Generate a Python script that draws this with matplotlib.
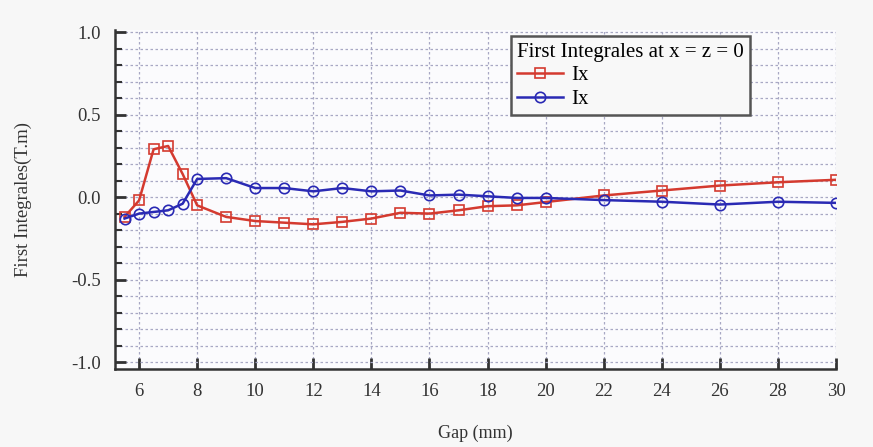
import numpy as np
import matplotlib
matplotlib.use("Agg")
import matplotlib.pyplot as plt
from matplotlib.ticker import MultipleLocator

plt.rcParams['font.family'] = ['Liberation Serif', 'DejaVu Serif']

# Gap positions (mm)
gap = [5.5, 6, 6.5, 7, 7.5, 8, 9, 10, 11, 12, 13, 14, 15, 16, 17, 18, 19, 20,
       22, 24, 26, 28, 30]

# First integrals (T.m)
ix_red = [-0.12, -0.02, 0.29, 0.31, 0.14, -0.05, -0.12, -0.145, -0.155, -0.165,
          -0.15, -0.13, -0.095, -0.10, -0.08, -0.055, -0.05, -0.03,
          0.01, 0.04, 0.07, 0.09, 0.105]
ix_blue = [-0.13, -0.10, -0.09, -0.08, -0.04, 0.11, 0.115, 0.055, 0.055, 0.035,
           0.055, 0.035, 0.04, 0.01, 0.015, 0.005, -0.005, -0.005,
           -0.018, -0.028, -0.045, -0.028, -0.035]

fig = plt.figure(figsize=(8.73, 4.47), dpi=100, facecolor='#f7f7f7')
ax = fig.add_axes([0.1317, 0.1745, 0.826, 0.758])
ax.set_facecolor('#fbfbfd')

ax.plot(gap, ix_red, color='#d43a2f', marker='s', markersize=7.5,
        markerfacecolor='none', markeredgewidth=1.2, linewidth=1.8, label='Ix')
ax.plot(gap, ix_blue, color='#2a2ab4', marker='o', markersize=7.5,
        markerfacecolor='none', markeredgewidth=1.2, linewidth=1.8, label='Ix')

ax.set_xlim(5.17, 30.0)
ax.set_ylim(-1.042, 1.012)
ax.xaxis.set_major_locator(MultipleLocator(2))
ax.yaxis.set_major_locator(MultipleLocator(0.5))
ax.yaxis.set_minor_locator(MultipleLocator(0.1))
ax.yaxis.set_major_formatter(matplotlib.ticker.FormatStrFormatter('%.1f'))

ax.grid(True, which='major', axis='x', color='#a8a8c4', linestyle=(0, (2, 2)), linewidth=0.9)
ax.grid(True, which='both', axis='y', color='#a8a8c4', linestyle=(0, (2, 2)), linewidth=0.9)

for s in ['top', 'right']:
    ax.spines[s].set_visible(False)
for s in ['left', 'bottom']:
    ax.spines[s].set_linewidth(1.8)
    ax.spines[s].set_color('#333333')

ax.tick_params(axis='both', which='major', direction='in', length=8, width=2,
               labelsize=13.5, colors='#333333', pad=10)
ax.tick_params(axis='y', which='minor', direction='in', length=5, width=1.5,
               colors='#333333')

ax.set_xlabel('Gap (mm)', fontsize=13, color='#333333', labelpad=18)
ax.set_ylabel('First Integrales(T.m)', fontsize=13.5, color='#333333', labelpad=28)

leg = ax.legend(title='First Integrales at x = z = 0', loc='upper left',
                bbox_to_anchor=(0.549, 0.982), fontsize=15, title_fontsize=15,
                frameon=True, fancybox=False, borderpad=0.3, handlelength=2.2,
                handletextpad=0.4, labelspacing=0.2, borderaxespad=0)
leg.get_frame().set_edgecolor('#555555')
leg.get_frame().set_linewidth(1.8)
leg.get_frame().set_facecolor('#f8f8f8')
leg.get_frame().set_alpha(1)
leg._legend_box.align = 'left'

fig.savefig('out.png', dpi=100, facecolor=fig.get_facecolor())
